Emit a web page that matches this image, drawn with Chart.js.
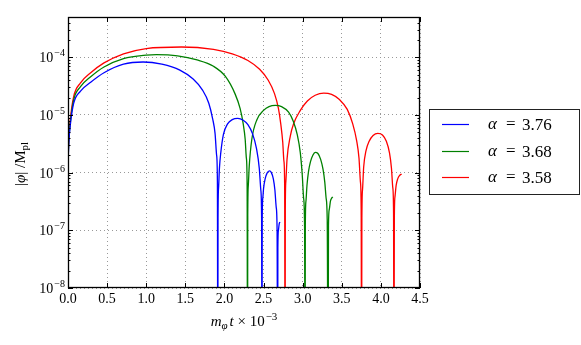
<!DOCTYPE html>
<html>
<head>
<meta charset="utf-8">
<script src="https://cdn.jsdelivr.net/npm/chart.js@4"></script>
<style>
  html, body { margin: 0; padding: 0; background: #fff; }
  #wrap { width: 581px; height: 345px; }
</style>
</head>
<body>
<div id="wrap"><canvas id="chart" width="581" height="345"></canvas></div>
<script>
// values (t in units of 10^3 / m_phi, |phi| in M_pl)
const tBlue = [0, 0.01, 0.03, 0.073, 0.16, 0.29, 0.46, 0.71, 0.96,
  1.2, 1.43, 1.6, 1.72, 1.8, 1.85, 1.88, 1.9, 1.91, 1.915,
  1.918, 1.925, 1.936, 1.953, 1.987, 2.04, 2.1, 2.17, 2.24, 2.3, 2.36, 2.41, 2.445, 2.465, 2.475, 2.48,
  2.483, 2.49, 2.5, 2.52, 2.545, 2.575, 2.6, 2.625, 2.645, 2.662, 2.673, 2.68,
  2.683, 2.69, 2.7, 2.71];
const phiBlue = [1.3e-6, 3.2e-6, 6.8e-6, 1.6e-5, 2.6e-5, 3.7e-5, 5.4e-5, 7.6e-5, 8.3e-5,
  7.6e-5, 6e-5, 4.2e-5, 2.7e-5, 1.6e-5, 8.5e-6, 4.8e-6, 2e-6, 6.8e-7, 1e-10,
  1.6e-7, 5.5e-7, 1.2e-6, 2.2e-6, 4.6e-6, 7e-6, 8.3e-6, 8.7e-6, 8.1e-6, 6.8e-6, 4.7e-6, 2.6e-6, 1.2e-6, 5e-7, 1.6e-7, 1e-10,
  1.5e-7, 3.6e-7, 5.3e-7, 7.8e-7, 9.8e-7, 1.07e-6, 1e-6, 7.8e-7, 5e-7, 2.5e-7, 1e-7, 1e-10,
  5e-8, 1e-7, 1.3e-7, 1.4e-7];

const tGreen = [0, 0.01, 0.03, 0.073, 0.16, 0.29, 0.46, 0.71, 1.0, 1.13,
  1.4, 1.65, 1.86, 2.01, 2.137, 2.2, 2.24, 2.265, 2.28, 2.29, 2.295,
  2.298, 2.305, 2.317, 2.35, 2.415, 2.5, 2.57, 2.65, 2.73, 2.82, 2.88, 2.93, 2.97, 2.995, 3.012, 3.025, 3.03,
  3.034, 3.042, 3.055, 3.075, 3.1, 3.13, 3.16, 3.195, 3.23, 3.26, 3.283, 3.3, 3.314, 3.325,
  3.33, 3.34, 3.355, 3.37, 3.385];
const phiGreen = [1.4e-6, 3.5e-6, 7.5e-6, 1.85e-5, 3.1e-5, 4.6e-5, 6.8e-5, 9.5e-5, 1.09e-4, 1.11e-4,
  1.06e-4, 9e-5, 7e-5, 4.7e-5, 2.3e-5, 1.3e-5, 7e-6, 3.8e-6, 1.8e-6, 6e-7, 1e-10,
  1.8e-7, 6e-7, 1.3e-6, 3.8e-6, 8.3e-6, 1.2e-5, 1.4e-5, 1.47e-5, 1.4e-5, 1.12e-5, 7.8e-6, 4.6e-6, 2.2e-6, 9e-7, 3.6e-7, 1e-7, 1e-10,
  1.2e-7, 3.2e-7, 6e-7, 1.05e-6, 1.55e-6, 2e-6, 2.25e-6, 2.15e-6, 1.7e-6, 1.15e-6, 6.8e-7, 3.6e-7, 1.5e-7, 1e-10,
  1.2e-7, 2.3e-7, 3.2e-7, 3.6e-7, 3.8e-7];

const tRed = [0, 0.01, 0.03, 0.073, 0.16, 0.29, 0.46, 0.71, 1.0, 1.45,
  1.86, 2.1, 2.3, 2.45, 2.56, 2.64, 2.69, 2.72, 2.745, 2.76, 2.77, 2.775,
  2.778, 2.785, 2.8, 2.842, 2.885, 2.97, 3.06, 3.16, 3.27, 3.37, 3.47, 3.57, 3.64, 3.69, 3.72, 3.738, 3.748, 3.753,
  3.757, 3.765, 3.78, 3.81, 3.85, 3.9, 3.96, 4.02, 4.07, 4.11, 4.135, 4.152, 4.162, 4.167,
  4.172, 4.18, 4.195, 4.215, 4.24, 4.265];
const phiRed = [1.6e-6, 4e-6, 8.5e-6, 2.1e-5, 3.6e-5, 5.4e-5, 8e-5, 1.15e-4, 1.42e-4, 1.51e-4,
  1.37e-4, 1.15e-4, 8.8e-5, 6.2e-5, 4e-5, 2.35e-5, 1.3e-5, 7e-6, 3.4e-6, 1.6e-6, 5.5e-7, 1e-10,
  2.2e-7, 7e-7, 1.7e-6, 4.3e-6, 7.1e-6, 1.2e-5, 1.75e-5, 2.2e-5, 2.4e-5, 2.27e-5, 1.85e-5, 1.25e-5, 7e-6, 3.6e-6, 1.8e-6, 7e-7, 2.2e-7, 1e-10,
  1.6e-7, 5e-7, 1.25e-6, 2.4e-6, 3.5e-6, 4.4e-6, 4.8e-6, 4.5e-6, 3.5e-6, 2.2e-6, 1.2e-6, 5.5e-7, 2e-7, 1e-10,
  1.6e-7, 3.8e-7, 6e-7, 7.8e-7, 9e-7, 9.5e-7];

const seriesLabels = ['3.76', '3.68', '3.58'];
const seriesColors = ['#0000ff', '#008000', '#ff0000'];
const xTicks = [0, 0.5, 1, 1.5, 2, 2.5, 3, 3.5, 4, 4.5];
const yExps = [-8, -7, -6, -5, -4];

const SERIF = '"Liberation Serif", "DejaVu Serif", serif';

function pts(ts, vs) {
    return ts.map((t, i) => ({ x: t, y: vs[i] }));
}

function drawPow(ctx, base, exp, x, y, size, align) {
    // base with superscript exponent, baseline at y
    ctx.font = size + 'px ' + SERIF;
    const wb = ctx.measureText(base).width;
    ctx.font = Math.round(size * 0.72) + 'px ' + SERIF;
    const we = ctx.measureText(exp).width;
    let x0 = x;
    if (align === 'right') x0 = x - wb - we - 1;
    if (align === 'center') x0 = x - (wb + we + 1) / 2;
    ctx.textAlign = 'left';
    ctx.textBaseline = 'alphabetic';
    ctx.font = size + 'px ' + SERIF;
    ctx.fillText(base, x0, y);
    ctx.font = Math.round(size * 0.72) + 'px ' + SERIF;
    ctx.fillText(exp, x0 + wb + 1, y - size * 0.42);
}

const decorPlugin = {
    id: 'decor',
    afterDraw(chart) {
        const ctx = chart.ctx;
        const area = chart.chartArea;
        const xs = chart.scales.x;
        const ys = chart.scales.y;
        ctx.save();
        ctx.fillStyle = '#000';
        ctx.strokeStyle = '#000';

        // frame
        ctx.lineWidth = 1.3;
        ctx.strokeRect(area.left + 0.5, area.top + 0.5, area.right - area.left - 1, area.bottom - area.top - 1);

        // x ticks (inward, top and bottom)
        ctx.lineWidth = 1;
        ctx.beginPath();
        xTicks.forEach(v => {
            const px = Math.round(xs.getPixelForValue(v)) + 0.5;
            ctx.moveTo(px, area.bottom); ctx.lineTo(px, area.bottom - 5);
            ctx.moveTo(px, area.top); ctx.lineTo(px, area.top + 5);
        });
        // y major + minor ticks, both sides
        yExps.forEach(e => {
            for (let m = 1; m <= 9; m++) {
                const v = m * Math.pow(10, e);
                if (v > ys.max * 1.0001) break;
                const py = Math.round(ys.getPixelForValue(v)) + 0.5;
                const len = m === 1 ? 5 : 2.5;
                ctx.moveTo(area.left, py); ctx.lineTo(area.left + len, py);
                ctx.moveTo(area.right, py); ctx.lineTo(area.right - len, py);
            }
        });
        ctx.stroke();

        ctx.font = '14px ' + SERIF;
        ctx.textAlign = 'center';
        ctx.textBaseline = 'alphabetic';
        xTicks.forEach(v => {
            ctx.fillText(v.toFixed(1), xs.getPixelForValue(v), area.bottom + 15);
        });
        yExps.forEach(e => {
            const py = ys.getPixelForValue(Math.pow(10, e));
            drawPow(ctx, '10', '\u2212' + (-e), area.left - 3, py + 5, 14, 'right');
        });

        // x axis title: m_phi t x 10^-3
        {
            const cx = 244, by = 326;
            ctx.textAlign = 'left';
            ctx.font = 'italic 15px ' + SERIF;
            const wm = ctx.measureText('m').width;
            ctx.font = 'italic 11px ' + SERIF;
            const wp = ctx.measureText('\u03c6').width;
            ctx.font = 'italic 15px ' + SERIF;
            const wt = ctx.measureText('t').width;
            ctx.font = '15px ' + SERIF;
            const wx = ctx.measureText(' \u00d7 10').width;
            ctx.font = '11px ' + SERIF;
            const we = ctx.measureText('\u22123').width;
            let x = cx - (wm + wp + 2 + wt + wx + we + 1) / 2;
            ctx.font = 'italic 15px ' + SERIF;
            ctx.fillText('m', x, by); x += wm;
            ctx.font = 'italic 11px ' + SERIF;
            ctx.fillText('\u03c6', x, by + 3); x += wp + 2;
            ctx.font = 'italic 15px ' + SERIF;
            ctx.fillText('t', x, by); x += wt;
            ctx.font = '15px ' + SERIF;
            ctx.fillText(' \u00d7 10', x, by); x += wx + 1;
            ctx.font = '11px ' + SERIF;
            ctx.fillText('\u22123', x, by - 6);
        }

        // y axis title: |phi| / M_pl
        {
            ctx.save();
            ctx.translate(25, 164);
            ctx.rotate(-Math.PI / 2);
            ctx.textAlign = 'left';
            ctx.font = '15px ' + SERIF;
            const w1 = ctx.measureText('|').width;
            ctx.font = 'italic 15px ' + SERIF;
            const w2 = ctx.measureText('\u03c6').width;
            ctx.font = '15px ' + SERIF;
            const w3 = ctx.measureText('| /M').width;
            ctx.font = '11px ' + SERIF;
            const w4 = ctx.measureText('pl').width;
            let x = -(w1 + w2 + w3 + w4) / 2;
            ctx.font = '15px ' + SERIF;
            ctx.fillText('|', x, 0); x += w1;
            ctx.font = 'italic 15px ' + SERIF;
            ctx.fillText('\u03c6', x, 0); x += w2;
            ctx.font = '15px ' + SERIF;
            ctx.fillText('| /M', x, 0); x += w3;
            ctx.font = '11px ' + SERIF;
            ctx.fillText('pl', x, 3);
            ctx.restore();
        }

        // legend box
        const lx = 429, ly = 109, lw = 151, lh = 86;
        ctx.fillStyle = '#fff';
        ctx.fillRect(lx, ly, lw, lh);
        ctx.strokeStyle = '#222';
        ctx.lineWidth = 1;
        ctx.strokeRect(lx + 0.5, ly + 0.5, lw - 1, lh - 1);
        const rows = [124, 151, 177];
        rows.forEach((ry, i) => {
            ctx.strokeStyle = seriesColors[i];
            ctx.lineWidth = 1.2;
            ctx.beginPath();
            ctx.moveTo(442, ry + 0.5);
            ctx.lineTo(469, ry + 0.5);
            ctx.stroke();
            ctx.fillStyle = '#000';
            ctx.textAlign = 'left';
            ctx.textBaseline = 'alphabetic';
            ctx.font = 'italic 17px ' + SERIF;
            ctx.fillText('\u03b1', 488, ry + 5);
            ctx.font = '17px ' + SERIF;
            ctx.fillText('=', 506, ry + 5);
            ctx.fillText(seriesLabels[i], 522, ry + 6);
        });

        ctx.restore();
    }
};

const datasets = [
    pts(tBlue, phiBlue),
    pts(tGreen, phiGreen),
    pts(tRed, phiRed)
].map((d, i) => ({
    label: '\u03b1 = ' + seriesLabels[i],
    data: d,
    borderColor: seriesColors[i],
    backgroundColor: seriesColors[i],
    borderWidth: 1.3,
    pointRadius: 0,
    cubicInterpolationMode: 'monotone',
    fill: false
}));

new Chart(document.getElementById('chart'), {
    type: 'line',
    data: { datasets: datasets },
    options: {
        responsive: false,
        animation: false,
        devicePixelRatio: 1,
        layout: { padding: { left: 0, top: 17, right: 161, bottom: 0 } },
        plugins: {
            legend: { display: false },
            tooltip: { enabled: false }
        },
        scales: {
            x: {
                type: 'linear',
                min: 0,
                max: 4.5,
                afterBuildTicks: s => { s.ticks = xTicks.map(v => ({ value: v })); },
                afterFit: s => { s.height = 57; },
                ticks: { display: false },
                border: { display: false, dash: [1, 3] },
                grid: { color: '#999', drawTicks: false, lineWidth: 1 }
            },
            y: {
                type: 'logarithmic',
                min: 1e-8,
                max: 5e-4,
                afterBuildTicks: s => { s.ticks = yExps.map(e => ({ value: Math.pow(10, e) })); },
                afterFit: s => { s.width = 68; },
                ticks: { display: false },
                border: { display: false, dash: [1, 3] },
                grid: { color: '#999', drawTicks: false, lineWidth: 1 }
            }
        }
    },
    plugins: [decorPlugin]
});
</script>
</body>
</html>
